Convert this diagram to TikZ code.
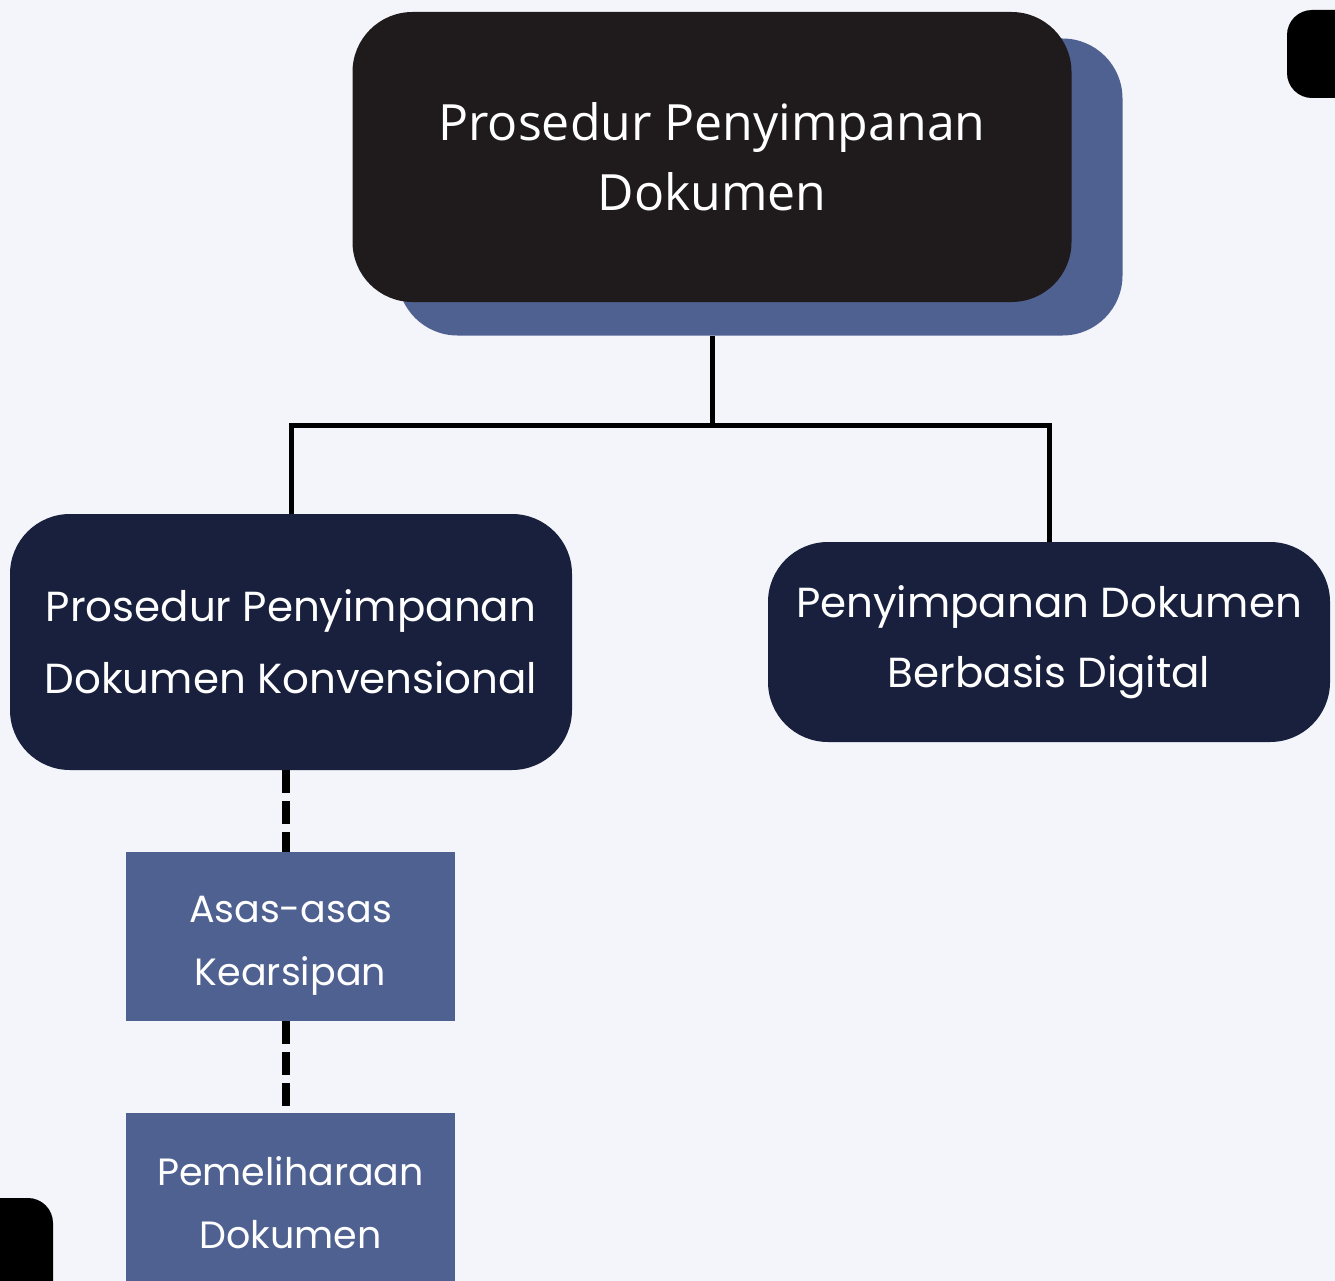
\documentclass[tikz,border=0pt]{standalone}
\usepackage{fontspec}
\setmainfont{Poppins}
\newfontfamily\topfont{Open Sans}
\definecolor{bgc}{HTML}{F3F5FA}
\definecolor{topblack}{HTML}{1F1B1C}
\definecolor{shadowblue}{HTML}{4F6191}
\definecolor{navy}{HTML}{18203D}
\definecolor{slate}{HTML}{4F6191}
\tikzset{
  bigbox/.style={rounded corners=60pt, inner sep=0pt, align=center, text=white},
  smallbox/.style={fill=slate, inner sep=0pt, minimum width=329pt},
  smalltext/.style={align=center, text=white, inner sep=0pt, font=\fontsize{38}{63}\selectfont},
  solidlink/.style={line width=5pt, black},
  dashlink/.style={line width=8pt, black, dash pattern=on 23pt off 8pt},
  cornerblob/.style={fill=black, rounded corners=25pt}
}
\begin{document}
\begin{tikzpicture}[x=1pt,y=-1pt]
\useasboundingbox (0,0) rectangle (1335,1281);
\begin{scope}
\clip (0,0) rectangle (1335,1281);
\fill[bgc] (0,0) rectangle (1335,1281);
% corner decorations
\fill[cornerblob] (1287,10) rectangle (1370,98);
\fill[cornerblob] (-40,1198) rectangle (53,1320);
% top node with shadow
\node[bigbox, fill=shadowblue, minimum width=725pt, minimum height=297pt] (shadow) at (760,187) {};
\node[bigbox, fill=topblack, minimum width=719pt, minimum height=290pt,
  font=\topfont\fontsize{50}{70}\selectfont] (top) at (712,157) {Prosedur Penyimpanan\\Dokumen};
% second level
\node[bigbox, fill=navy, minimum width=562pt, minimum height=256pt,
  font=\fontsize{42}{72}\selectfont] (left) at (291,642) {Prosedur Penyimpanan\\Dokumen Konvensional};
\node[bigbox, fill=navy, minimum width=562pt, minimum height=200pt,
  font=\fontsize{42}{70}\selectfont] (right) at (1049,642) {Penyimpanan Dokumen\\Berbasis Digital};
% third level
\node[smallbox, minimum height=169pt] (asas) at (290.5,936.5) {};
\node[smalltext] (asastext) at ([yshift=-9pt]asas.center) {Asas-asas\\Kearsipan};
\node[smallbox, minimum height=180pt] (pem) at (290.5,1203) {};
\node[smalltext] (pemtext) at (pem.center) {Pemeliharaan\\Dokumen};
% connectors
\coordinate (junction) at (715,425);
\draw[solidlink] (top.south |- shadow.south) -- (top.south |- junction);
\draw[solidlink] (left.north) -- (left.north |- junction) -| (right.north);
\draw[dashlink] ([xshift=-5pt]left.south) -- ([xshift=-4.5pt]asas.north);
\draw[dashlink] ([xshift=-4.5pt]asas.south) -- ([xshift=-4.5pt]pem.north);
\end{scope}
\end{tikzpicture}
\end{document}
